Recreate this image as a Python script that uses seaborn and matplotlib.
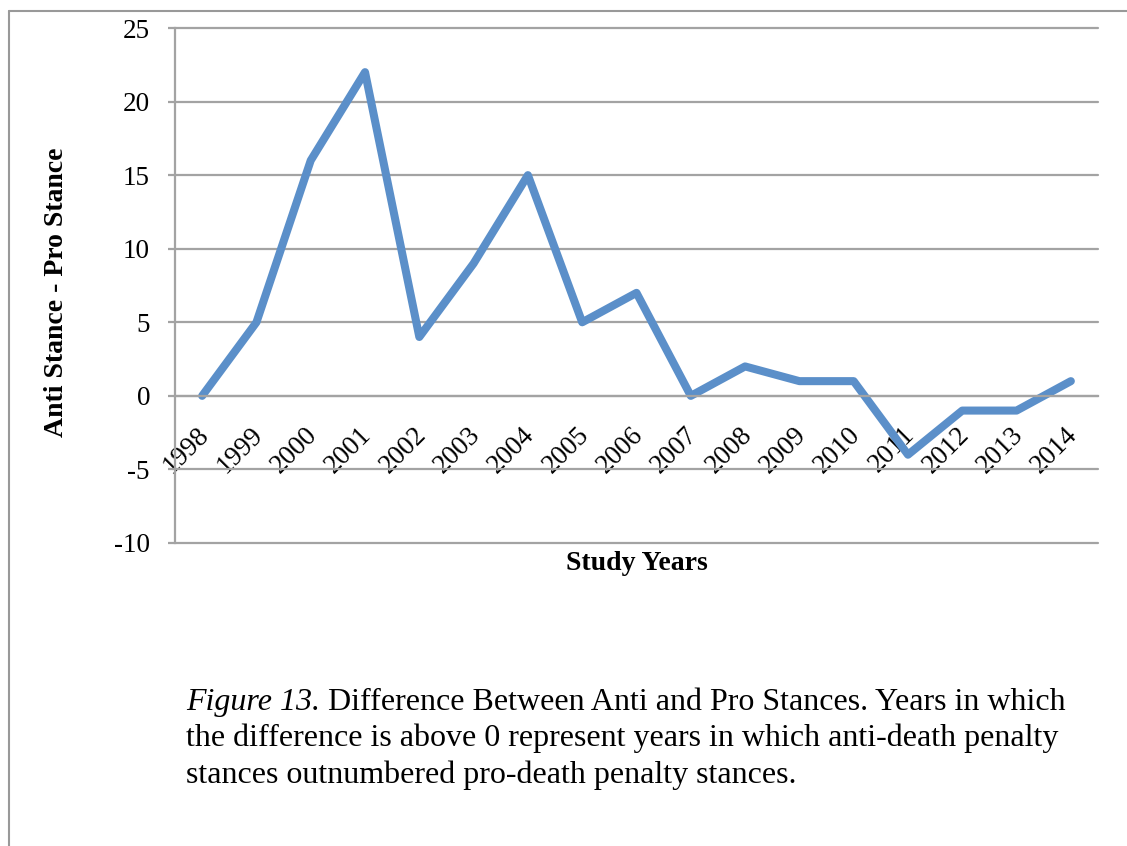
import numpy as np
import pandas as pd
import seaborn as sns
import matplotlib
matplotlib.use('Agg')
import matplotlib.pyplot as plt
from matplotlib.lines import Line2D
from matplotlib.transforms import ScaledTranslation

# data
years = ['1998', '1999', '2000', '2001', '2002', '2003', '2004', '2005', '2006',
         '2007', '2008', '2009', '2010', '2011', '2012', '2013', '2014']
diff = [0, 5, 16, 22, 4, 9, 15, 5, 7, 0, 2, 1, 1, -4, -1, -1, 1]
y_ticks = [-10, -5, 0, 5, 10, 15, 20, 25]

caption_italic = 'Figure 13.'
caption_lines = [' Difference Between Anti and Pro Stances. Years in which',
                 'the difference is above 0 represent years in which anti-death penalty',
                 'stances outnumbered pro-death penalty stances.']

df = pd.DataFrame({'year': years, 'diff': diff})

sns.set_theme(style='white')
plt.rcParams['font.family'] = ['Liberation Serif', 'DejaVu Serif']
plt.rcParams['text.color'] = 'black'
plt.rcParams['axes.labelcolor'] = 'black'
plt.rcParams['xtick.color'] = 'black'
plt.rcParams['ytick.color'] = 'black'

line_color = '#5b8fc9'
grid_color = '#a3a3a3'

fig = plt.figure(figsize=(11.27, 8.46), dpi=100)
ax = fig.add_axes([175 / 1127, 1 - 543 / 846, 923 / 1127, 515 / 846])

sns.lineplot(data=df, x='year', y='diff', sort=False, ax=ax, color=line_color,
             linewidth=5.8, solid_capstyle='round', solid_joinstyle='round')

ax.set_xlim(-0.5, len(years) - 0.5)
ax.set_ylim(-10, 25)
ax.set_yticks(y_ticks)
ax.set_yticklabels([str(v) for v in y_ticks], fontsize=19.5)
ax.yaxis.grid(True, color=grid_color, linewidth=1.6)
ax.set_axisbelow(True)
for gl in ax.get_ygridlines():
    gl.set_clip_on(False)

# x axis sits on y = 0, category boundaries carry the tick marks
ax.spines['bottom'].set_position(('data', 0))
for s in ['top', 'right']:
    ax.spines[s].set_visible(False)
for s in ['left', 'bottom']:
    ax.spines[s].set_color(grid_color)
    ax.spines[s].set_linewidth(1.6)

ax.set_xticks(range(len(years)))
ax.set_xticklabels(years, fontsize=19.5, rotation=45, ha='right', va='top',
                   rotation_mode='anchor')
ax.set_xticks(np.arange(-0.5, len(years), 1), minor=True)
ax.tick_params(axis='x', which='major', length=0, pad=19)
ax.tick_params(axis='x', which='minor', direction='out', length=5,
               width=1.6, color=grid_color)
ax.tick_params(axis='y', which='major', direction='out', length=5,
               width=1.6, color=grid_color, labelcolor='black', pad=13, left=True)
for lab in ax.get_xticklabels():
    lab.set_transform(lab.get_transform() + ScaledTranslation(-0.06, 0, fig.dpi_scale_trans))

ax.set_xlabel('Study Years', fontsize=20, fontweight='bold')
ax.xaxis.set_label_coords(0.5, (543 - 563) / 515)
ax.xaxis.label.set_va('center')
ax.set_ylabel('Anti Stance - Pro Stance', fontsize=20, fontweight='bold')
ax.yaxis.set_label_coords((57 - 175) / 923, (543 - 292) / 515)
ax.yaxis.label.set_va('center')

# page border lines (top and left)
fig.add_artist(Line2D([9 / 1127, 1.0], [1 - 11 / 846, 1 - 11 / 846],
                      transform=fig.transFigure, color='#999999', linewidth=1.5))
fig.add_artist(Line2D([9 / 1127, 9 / 1127], [0, 1 - 11 / 846],
                      transform=fig.transFigure, color='#999999', linewidth=1.5))

# caption
cap_size = 23
x0 = 186 / 1127
t_it = fig.text(x0, 1 - 710 / 846, caption_italic, fontsize=cap_size,
                style='italic', va='baseline', ha='left')
renderer = fig.canvas.get_renderer()
bb = t_it.get_window_extent(renderer=renderer)
fig.text(bb.x1 / fig.bbox.width, 1 - 710 / 846, caption_lines[0], fontsize=cap_size,
         va='baseline', ha='left')
fig.text(x0, 1 - 746 / 846, caption_lines[1], fontsize=cap_size, va='baseline', ha='left')
fig.text(x0, 1 - 783 / 846, caption_lines[2], fontsize=cap_size, va='baseline', ha='left')

fig.savefig('out.png', dpi=100)
